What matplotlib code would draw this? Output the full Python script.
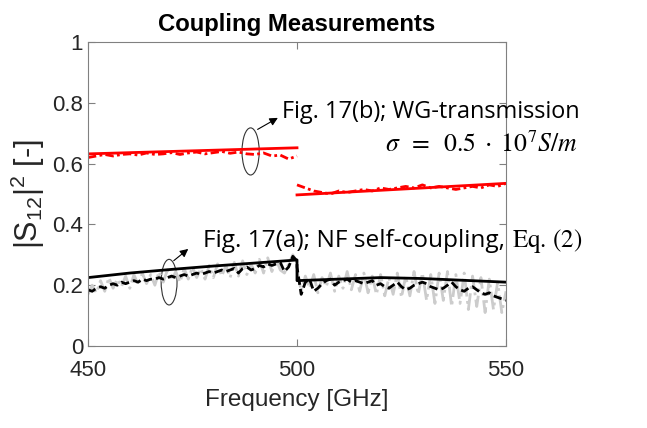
import numpy as np
import matplotlib
matplotlib.use("Agg")
import matplotlib.pyplot as plt
from matplotlib.patches import Ellipse

plt.rcParams['font.family'] = ['Liberation Sans', 'DejaVu Sans']
plt.rcParams['mathtext.fontset'] = 'custom'
plt.rcParams['mathtext.rm'] = 'Liberation Sans'
plt.rcParams['mathtext.it'] = 'Liberation Sans:italic'

# ---------------- data ----------------
f_low = np.arange(450, 501, 1)
f_high = np.arange(500, 551, 1)
f_low2 = np.arange(450, 501, 2)
f_high2 = np.arange(500, 551, 2)

# WG-transmission (red)
red_sim_f_low = [450, 475, 500]
red_sim_low = [0.632, 0.642, 0.652]
red_sim_f_high = [500, 525, 550]
red_sim_high = [0.497, 0.516, 0.535]
red_meas_low = [0.620, 0.625, 0.630, 0.625, 0.630, 0.632, 0.628, 0.635, 0.630, 0.632,
                0.636, 0.630, 0.635, 0.638, 0.632, 0.636, 0.640, 0.634, 0.638, 0.632,
                0.630, 0.635, 0.625, 0.628, 0.615, 0.625]
red_meas_high = [0.530, 0.520, 0.510, 0.505, 0.500, 0.510, 0.505, 0.510, 0.515, 0.510,
                 0.520, 0.515, 0.520, 0.525, 0.520, 0.530, 0.520, 0.525, 0.520, 0.515,
                 0.520, 0.525, 0.520, 0.530, 0.525, 0.535]

# NF self-coupling (black)
blk_sim_f = [450, 460, 470, 480, 490, 500, 500, 510, 520, 530, 540, 550]
blk_sim = [0.225, 0.240, 0.252, 0.263, 0.273, 0.283, 0.215, 0.220, 0.225, 0.222, 0.216, 0.210]

blk_meas_low = [0.185, 0.180, 0.190, 0.195, 0.190, 0.200, 0.205, 0.200, 0.210, 0.205,
                0.210, 0.215, 0.210, 0.220, 0.215, 0.220, 0.220, 0.225, 0.220, 0.225,
                0.230, 0.225, 0.230, 0.235, 0.230, 0.235, 0.240, 0.235, 0.240, 0.245,
                0.240, 0.245, 0.250, 0.245, 0.250, 0.255, 0.240, 0.255, 0.260, 0.250,
                0.255, 0.265, 0.260, 0.270, 0.265, 0.270, 0.275, 0.245, 0.260, 0.295,
                0.280]
blk_meas_high = [0.260, 0.170, 0.210, 0.220, 0.180, 0.190, 0.205, 0.215, 0.220, 0.200,
                 0.210, 0.215, 0.220, 0.210, 0.215, 0.210, 0.205, 0.210, 0.215, 0.200,
                 0.205, 0.195, 0.190, 0.200, 0.210, 0.195, 0.185, 0.190, 0.200, 0.205,
                 0.210, 0.205, 0.195, 0.190, 0.185, 0.190, 0.200, 0.210, 0.195, 0.185,
                 0.180, 0.190, 0.195, 0.185, 0.175, 0.170, 0.175, 0.165, 0.160, 0.155,
                 0.150]

gray_low = [0.170, 0.200, 0.175, 0.215, 0.180, 0.225, 0.190, 0.220, 0.195, 0.230,
            0.190, 0.235, 0.200, 0.240, 0.205, 0.235, 0.200, 0.245, 0.210, 0.250,
            0.215, 0.245, 0.210, 0.255, 0.220, 0.260, 0.225, 0.255, 0.220, 0.265,
            0.225, 0.270, 0.230, 0.265, 0.225, 0.275, 0.230, 0.280, 0.235, 0.270,
            0.240, 0.285, 0.240, 0.290, 0.245, 0.285, 0.250, 0.240, 0.270, 0.300,
            0.275]
gray_high = [0.250, 0.180, 0.230, 0.190, 0.235, 0.175, 0.225, 0.195, 0.240, 0.180,
             0.230, 0.190, 0.245, 0.185, 0.235, 0.180, 0.240, 0.175, 0.230, 0.170,
             0.235, 0.165, 0.225, 0.170, 0.240, 0.160, 0.230, 0.165, 0.245, 0.170,
             0.240, 0.150, 0.235, 0.140, 0.240, 0.150, 0.245, 0.130, 0.235, 0.140,
             0.240, 0.120, 0.230, 0.130, 0.225, 0.110, 0.220, 0.120, 0.210, 0.110,
             0.180]

# ---------------- figure ----------------
fig = plt.figure(figsize=(6.47, 4.28), dpi=100)
ax = fig.add_axes([88/647, 1-346/428, (506-88)/647, (346-42)/428])

gray_c = '#cccccc'
ax.plot(f_low, gray_low, color=gray_c, lw=2, ls='-.')
ax.plot(f_high, gray_high, color=gray_c, lw=2, ls='-.')

ax.plot(np.concatenate([f_low, f_high]), blk_meas_low + blk_meas_high,
        color='black', lw=2, ls=(0, (3, 1.5)))
ax.plot(blk_sim_f, blk_sim, color='black', lw=2)

ax.plot(f_low2, red_meas_low, color='red', lw=2, ls=(0, (3, 1.2, 1, 1.2)))
ax.plot(f_high2, red_meas_high, color='red', lw=2, ls=(0, (3, 1.2, 1, 1.2)))
ax.plot(red_sim_f_low, red_sim_low, color='red', lw=2)
ax.plot(red_sim_f_high, red_sim_high, color='red', lw=2)

ax.set_xlim(450, 550)
ax.set_ylim(0, 1)
ax.set_xticks([450, 500, 550])
ax.set_yticks([0, 0.2, 0.4, 0.6, 0.8, 1])
ax.set_yticklabels(['0', '0.2', '0.4', '0.6', '0.8', '1'])
ax.tick_params(direction='in', top=True, right=True, length=5, width=0.8,
               labelsize=16, colors='#808080', labelcolor='#262626')
for s in ax.spines.values():
    s.set_color('#808080')
    s.set_linewidth(0.8)
ax.tick_params(axis='x', pad=10)

ax.set_title('Coupling Measurements', fontsize=17.2, fontweight='bold', pad=8)
ax.set_xlabel('Frequency [GHz]', fontsize=17.5, color='#262626', labelpad=6)
ax.set_ylabel(r'|S$_{12}$|$^2$ [-]', fontsize=22, color='#262626', labelpad=4,
              math_fontfamily='custom')

# annotations
ax.add_patch(Ellipse((488.9, 0.64), 4.1, 0.155, fill=False, ec='#333333', lw=0.8))
ax.add_patch(Ellipse((469.4, 0.21), 3.8, 0.15, fill=False, ec='#333333', lw=0.8))
ax.annotate('', xy=(496.0, 0.755), xytext=(490.0, 0.708),
            arrowprops=dict(arrowstyle='-|>', color='black', lw=0.8, mutation_scale=12))
ax.annotate('', xy=(474.5, 0.325), xytext=(470.0, 0.275),
            arrowprops=dict(arrowstyle='-|>', color='black', lw=0.8, mutation_scale=12))

txt_font = ['Open Sans', 'DejaVu Sans']
ax.text(496.4, 0.75, 'Fig. 17(b); WG-transmission', fontsize=16.9, family=txt_font,
        va='baseline', ha='left', clip_on=False)
ax.text(521.1, 0.64, r'$\sigma\;\;=\;\;0.5\;\cdot\;10^{7}S/m$', fontsize=18.5,
        va='baseline', ha='left', clip_on=False, math_fontfamily='stix')
t1 = ax.text(477.5, 0.326, 'Fig. 17(a); NF self-coupling,', fontsize=17.6,
             family=txt_font, va='baseline', ha='left', clip_on=False)
ax.annotate(r'$\mathrm{Eq.}\,(2)$', xy=(1, 0), xycoords=t1, xytext=(5, 4.6),
            textcoords='offset points', fontsize=18, va='baseline', ha='left',
            annotation_clip=False, math_fontfamily='stix')

fig.savefig('out.png', dpi=100)
